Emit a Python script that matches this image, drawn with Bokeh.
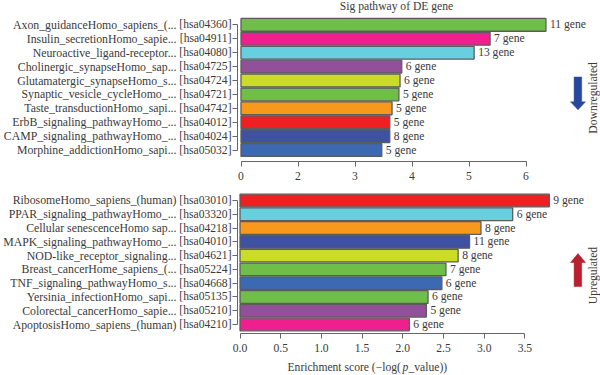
from bokeh.plotting import figure
from bokeh.embed import file_html
from bokeh.resources import INLINE
from bokeh.layouts import column
from bokeh.models import ColumnDataSource, LabelSet, Label, FixedTicker, LinearAxis
from bokeh.core.properties import value as _value
import math

FONT = "Liberation Serif"
TXT = "#3a3a3a"
AX = "#666666"
EDGE = "#5c5c5c"

down_names = ["Axon_guidanceHomo_sapiens_(...", "Insulin_secretionHomo_sapie...", "Neuroactive_ligand-receptor...",
              "Cholinergic_synapseHomo_sap...", "Glutamatergic_synapseHomo_s...", "Synaptic_vesicle_cycleHomo_...",
              "Taste_transductionHomo_sapi...", "ErbB_signaling_pathwayHomo_...", "CAMP_signaling_pathwayHomo_...",
              "Morphine_addictionHomo_sapi..."]
down_ids = ["[hsa04360]", "[hsa04911]", "[hsa04080]", "[hsa04725]", "[hsa04724]", "[hsa04721]", "[hsa04742]",
            "[hsa04012]", "[hsa04024]", "[hsa05032]"]
down_values = [6.35, 5.37, 5.09, 3.82, 3.79, 3.77, 3.65, 3.61, 3.61, 3.47]
down_genes = ["11 gene", "7 gene", "13 gene", "6 gene", "6 gene", "5 gene", "5 gene", "5 gene", "8 gene", "5 gene"]
down_colors = ["#6fbe4a", "#ef1f8e", "#68cfdf", "#92509b", "#cbdc28", "#6fbe4a", "#f9991c", "#ee2024", "#3f51a1", "#3b69b2"]
down_ticks = [1, 2, 3, 4, 5, 6]
down_tick_labels = ["0", "2", "3", "4", "5", "6"]

up_names = ["RibosomeHomo_sapiens_(human)", "PPAR_signaling_pathwayHomo_...", "Cellular senescenceHomo sap...",
            "MAPK_signaling_pathwayHomo_...", "NOD-like_receptor_signaling...", "Breast_cancerHome_sapiens_(...",
            "TNF_signaling_pathwayHomo_s...", "Yersinia_infectionHomo_sapi...", "Colorectal_cancerHomo_sapie...",
            "ApoptosisHomo_sapiens_(human)"]
up_ids = ["[hsa03010]", "[hsa03320]", "[hsa04218]", "[hsa04010]", "[hsa04621]", "[hsa05224]", "[hsa04668]",
          "[hsa05135]", "[hsa05210]", "[hsa04210]"]
up_values = [3.80, 3.35, 2.96, 2.82, 2.68, 2.53, 2.48, 2.31, 2.29, 2.08]
up_genes = ["9 gene", "6 gene", "8 gene", "11 gene", "8 gene", "7 gene", "6 gene", "6 gene", "5 gene", "6 gene"]
up_colors = ["#ee2024", "#68cfdf", "#f9991c", "#3f51a1", "#cbdc28", "#6fbe4a", "#3b69b2", "#6fbe4a", "#92509b", "#ef1f8e"]
up_ticks = [0.0, 0.5, 1.0, 1.5, 2.0, 2.5, 3.0, 3.5]
up_tick_labels = ["0.0", "0.5", "1.0", "1.5", "2.0", "2.5", "3.0", "3.5"]

FS = "11.6px"
FS_NAME = "11.8px"


def panel(names, ids, values, genes, colors, ticks, tick_labels, base, x_range, y_range, height, border_bottom):
    p = figure(width=600, height=height, x_range=x_range, y_range=y_range, output_backend="svg",
               toolbar_location=None, min_border_left=237, min_border_right=0, min_border_top=0,
               min_border_bottom=border_bottom)
    p.outline_line_color = None
    p.grid.visible = False
    p.background_fill_color = None
    p.border_fill_color = None
    n = len(values)
    ypos = [n - 1 - i for i in range(n)]
    src = ColumnDataSource(dict(y=ypos, right=values, left=[base] * n, color=colors, gene=genes))
    p.hbar(y="y", left="left", right="right", height=0.92, fill_color="color", line_color=EDGE, line_width=1.3, source=src)
    p.add_layout(LabelSet(x="right", y="y", text="gene", source=src, x_offset=4, text_font=_value(FONT),
                          text_font_size=FS, text_color=TXT, text_baseline="middle"))
    name_axis = LinearAxis(ticker=FixedTicker(ticks=ypos), major_label_overrides={y: l for y, l in zip(ypos, names)},
                           axis_line_color=None, major_tick_line_color=None, minor_tick_line_color=None,
                           major_tick_in=0, major_tick_out=0, major_label_standoff=0,
                           major_label_text_font=FONT, major_label_text_font_size=FS_NAME, major_label_text_color=TXT)
    p.add_layout(name_axis, "left")
    ax_x, ax_y = p.xaxis[0], p.yaxis[0]
    for ax in (ax_x, ax_y):
        ax.axis_line_color = AX
        ax.axis_line_width = 1
        ax.major_tick_line_color = AX
        ax.major_tick_line_width = 1
        ax.major_tick_in = 0
        ax.major_tick_out = 5
        ax.minor_tick_line_color = None
        ax.major_label_text_font = FONT
        ax.major_label_text_font_size = FS
        ax.major_label_text_color = TXT
    ax_x.ticker = FixedTicker(ticks=ticks)
    ax_x.major_label_overrides = {t: l for t, l in zip(ticks, tick_labels)}
    ax_x.bounds = (ticks[0], ticks[-1])
    ax_x.major_label_standoff = 5
    ax_y.ticker = FixedTicker(ticks=ypos)
    ax_y.major_label_overrides = {y: l for y, l in zip(ypos, ids)}
    ax_y.bounds = (0, n - 1)
    ax_y.major_label_standoff = 1
    return p


def txt(p, x, y, s, **kw):
    p.add_layout(Label(x=x, y=y, text=s, text_font=FONT, text_font_size=FS, text_color=TXT,
                       text_baseline="middle", **kw))


def arrow(p, fx, fy, tip, tail, head_len, color):
    """Block arrow drawn in page pixels, converted with the panel's own mapping."""
    sgn = 1 if tail > tip else -1
    neck = tip + sgn * head_len
    xs = [577.5, 585, 581.2, 581.2, 573.6, 573.6, 570]
    ys = [tip, neck, neck, tail, tail, neck, neck]
    p.patch([fx(v) for v in xs], [fy(v) for v in ys], fill_color=color, line_color=color, line_width=0.5)


# top panel: px = 240.5 + 57 (x - 1); py = 150.5 - 14 y
tx = lambda px: 1 + (px - 240.5) / 57
ty = lambda py: (150.5 - py) / 14
top = panel(down_names, down_ids, down_values, down_genes, down_colors, down_ticks, down_tick_labels, 1,
            (tx(237), tx(600)), (ty(162), ty(0)), 182, 20)
txt(top, tx(396), ty(6), "Sig pathway of DE gene", text_align="center")
txt(top, tx(593), ty(98), "Downregulated", text_align="center", angle=math.pi / 2)
arrow(top, tx, ty, 110, 77, 8, "#27479c")

# bottom panel: px = 239.5 + 81.4 x; py = 324 - 13.78 y
bx = lambda px: (px - 239.5) / 81.4
by = lambda py: (324 - py) / 13.78
bot = panel(up_names, up_ids, up_values, up_genes, up_colors, up_ticks, up_tick_labels, 0,
            (bx(237), bx(600)), (by(333), by(182)), 173, 22)
txt(bot, bx(593), by(275), "Upregulated", text_align="center", angle=math.pi / 2)
arrow(bot, bx, by, 253, 286, 9, "#b81f2f")

# axis-title strip: data units are page pixels (its frame is aligned with the panels above)
cap = figure(width=600, height=20, x_range=(237, 600), y_range=(375, 355), output_backend="svg", toolbar_location=None,
             min_border_left=237, min_border_right=0, min_border_top=0, min_border_bottom=0, x_axis_location=None,
             y_axis_location=None)
cap.outline_line_color = None
cap.grid.visible = False
cap.background_fill_color = None
cap.border_fill_color = None
txt(cap, 287, 367, "Enrichment score (\u2212log(", text_align="left")
cap.add_layout(Label(x=402, y=367, text="p", text_font=FONT, text_font_size=FS, text_font_style="italic",
                     text_color=TXT, text_baseline="middle"))
txt(cap, 408, 367, "_value))", text_align="left")

page = column(top, bot, cap, spacing=0, styles={"position": "absolute", "left": "0px", "top": "0px"})
open("out.html", "w").write(file_html(page, INLINE))
